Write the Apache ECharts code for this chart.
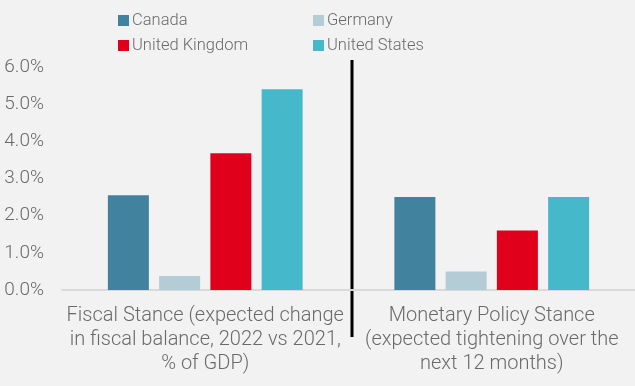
<!DOCTYPE html>
<html><head><meta charset="utf-8">
<script src="https://cdn.jsdelivr.net/npm/echarts@6/dist/echarts.min.js"></script>
<style>html,body{margin:0;padding:0;background:#f2f2f2}#c{width:635px;height:386px}</style>
</head><body><div id="c"></div>
<script>
const categories = ["Fiscal Stance (expected change\nin fiscal balance, 2022 vs 2021,\n% of GDP)", "Monetary Policy Stance\n(expected tightening over the\nnext 12 months)"];
const seriesNames = ["Canada", "Germany", "United Kingdom", "United States"];
const canada = [2.55, 2.5];
const germany = [0.38, 0.5];
const uk = [3.68, 1.6];
const us = [5.4, 2.5];
const colors = ["#41829f", "#b3ccd5", "#e0001b", "#45b8c9"];
const yTicks = [0, 1, 2, 3, 4, 5, 6];

const chart = echarts.init(document.getElementById('c'));
const font = 'Roboto';
const txt = '#6a6a6a';
const vals = [canada, germany, uk, us];
const legendText = {fontFamily: font, fontSize: 16.5, color: txt, fontWeight: 300, padding: [0,0,0,-2]};
chart.setOption({
  backgroundColor: '#f2f2f2',
  animation: false,
  textStyle: {fontFamily: font},
  legend: [
    {data: [seriesNames[0], seriesNames[2]], orient: 'vertical', left: 113, top: 7, itemWidth: 11, itemHeight: 11, itemGap: 8,
     icon: 'rect', textStyle: legendText},
    {data: [seriesNames[1], seriesNames[3]], orient: 'vertical', left: 308, top: 7, itemWidth: 11, itemHeight: 11, itemGap: 8,
     icon: 'rect', textStyle: legendText}
  ],
  grid: {left: 62, right: 0, top: 67, bottom: 96, containLabel: false},
  xAxis: {
    type: 'category', data: categories,
    axisLine: {lineStyle: {color: '#d9d9d9', width: 2}},
    axisTick: {show: false},
    axisLabel: {fontFamily: font, fontSize: 20, fontWeight: 300, color: txt, lineHeight: 24, margin: 14, interval: 0}
  },
  yAxis: {
    type: 'value', min: 0, max: 6, interval: 1,
    axisLine: {show: false}, axisTick: {show: false}, splitLine: {show: false},
    axisLabel: {fontFamily: font, fontSize: 19, fontWeight: 300, color: txt, margin: 18,
      formatter: v => yTicks.includes(v) ? v.toFixed(1) + '%' : ''}
  },
  series: seriesNames.map((n, i) => ({
    name: n, type: 'bar', data: vals[i], barWidth: 41, barGap: '25%',
    itemStyle: {color: colors[i]}
  })),
  graphic: [{type: 'line', shape: {x1: 352, y1: 60, x2: 352, y2: 337}, style: {stroke: '#000', lineWidth: 3}}]
});
</script></body></html>
